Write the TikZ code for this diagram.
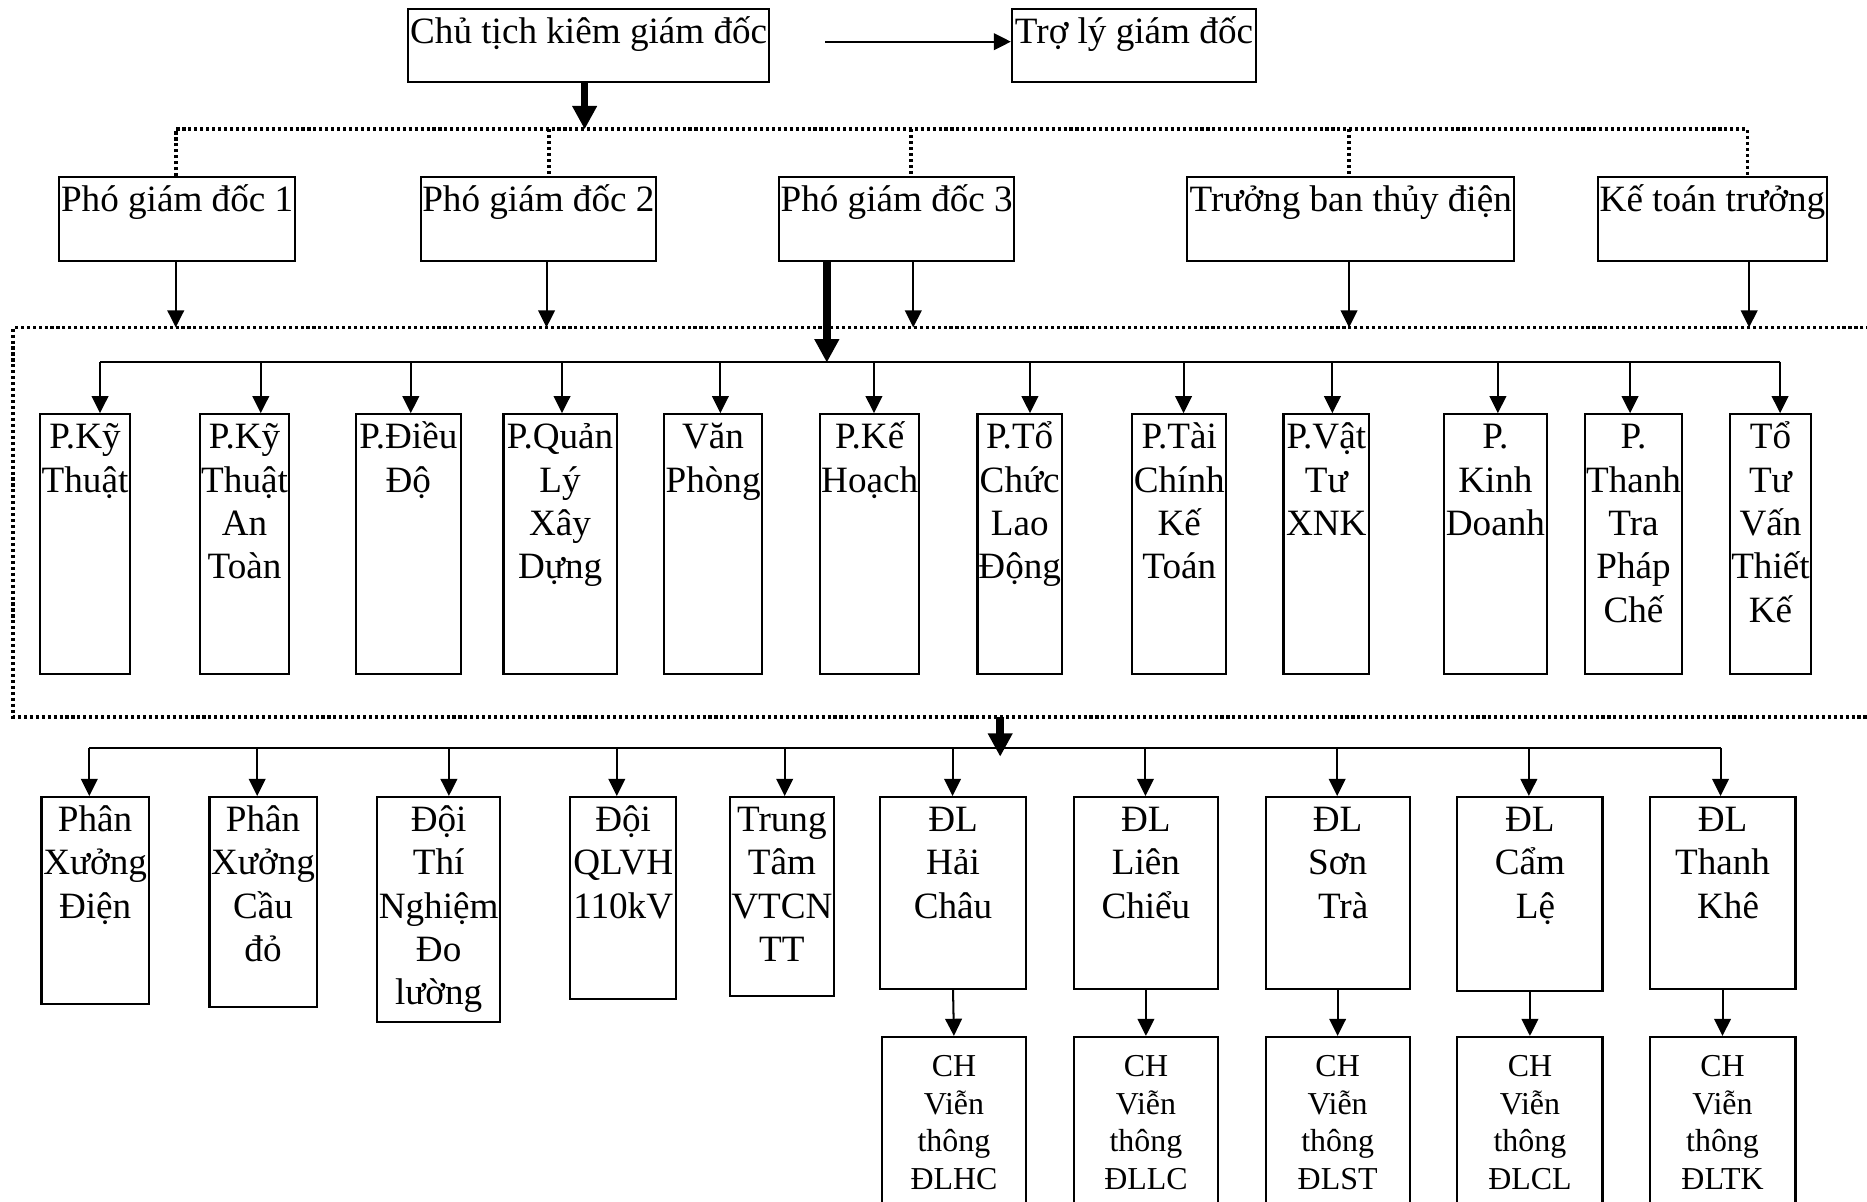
\documentclass[tikz,border=0pt]{standalone}
\usepackage{fontspec}
\setmainfont{Liberation Serif}
\usetikzlibrary{arrows.meta}
\newcommand{\orgbx}[6]{%
  \pgfmathsetmacro\bxw{(#4-#2)*0.5}%
  \pgfmathsetmacro\bxh{(#5-#3)*0.5}%
  \node[box, minimum width=\bxw pt, minimum height=\bxh pt, anchor=north west] (#1) at (#2,#3) {};
  \node[lbl, yshift=1.25pt] (#1t) at (#1.north) {\rule{0pt}{16pt}#6};
}
\newcommand{\orgbxsm}[6]{%
  \pgfmathsetmacro\bxw{(#4-#2)*0.5}%
  \pgfmathsetmacro\bxh{(#5-#3)*0.5}%
  \node[box, minimum width=\bxw pt, minimum height=\bxh pt, anchor=north west] (#1) at (#2,#3) {};
  \node[lblsm, yshift=-2.5pt] (#1t) at (#1.north) {\rule{0pt}{14.5pt}#6};
}
\begin{document}
\begin{tikzpicture}[x=0.5pt,y=-0.5pt,
  box/.style={draw, line width=0.9pt, rectangle, inner sep=0pt},
  lbl/.style={align=center, inner sep=0pt, anchor=north, font=\fontsize{15.6}{18.2}\selectfont},
  lblsm/.style={align=center, inner sep=0pt, anchor=north, font=\fontsize{13.4}{15.75}\selectfont},
  arr/.style={line width=0.85pt, -{Triangle[length=7.2pt,width=7pt]}},
  thickarr/.style={line width=3.2pt, -{Triangle[length=9.8pt,width=9.8pt]}},
  thinline/.style={line width=0.85pt},
  dotline/.style={line width=1.6pt, dash pattern=on 1.3pt off 1.2pt},
]
\useasboundingbox (0,0) rectangle (1568,1009);
\clip (0,0) rectangle (1568,1009);

% top row
\orgbx{chu}{342}{7}{645}{68}{Chủ tịch kiêm giám đốc}
\orgbx{troly}{849}{7}{1054}{68}{Trợ lý giám đốc}
\coordinate (tl0) at (693,35);
\draw[arr] (tl0) -- (tl0 -| troly.west);

% deputies
\orgbx{p1}{49}{148}{246.7}{218.4}{Phó giám đốc 1}
\orgbx{p2}{352.7}{148}{549.8}{218.4}{Phó giám đốc 2}
\orgbx{p3}{653.4}{148}{851}{218.4}{Phó giám đốc 3}
\orgbx{p4}{996.3}{148}{1270.7}{218.4}{Trưởng ban thủy điện}
\orgbx{p5}{1341}{148}{1533.6}{218.4}{Kế toán trưởng}

\coordinate (d0) at (491,108.6);
\draw[thickarr] (chu.south -| d0) -- (d0);
\coordinate (dL) at (147.6,108.6);
\coordinate (dR) at (1467.6,108.6);
\draw[dotline] (dL |- p1.north) -- (dL) -- (dR) -- (dR |- p5.north);
\foreach \n/\x in {p2/461, p3/765.4, p4/1133}{
  \coordinate (dd\n) at (\x,108.6);
  \draw[dotline] (dd\n) -- (dd\n |- \n.north);
}

% arrows from deputies to dotted frame
\foreach \n/\x in {p1/147.6, p2/459, p3/767, p4/1133, p5/1469}{
  \coordinate (q\n) at (\x,275);
  \draw[arr] (q\n |- \n.south) -- (q\n);
}
\coordinate (q3t) at (694.4,304.5);
\draw[thickarr] (q3t |- p3.south) -- (q3t);

% dotted frame
\draw[dotline] (1600,275) -- (11,275) -- (11,602) -- (1600,602);

% departments
\draw[thinline] (84,303.7) -- (1495,303.7);
\orgbx{d1}{33}{347}{108}{565}{P.Kỹ\\Thuật}
\orgbx{d2}{167}{347}{242}{565}{P.Kỹ\\Thuật\\An\\Toàn}
\orgbx{d3}{298}{347}{386}{565}{P.Điều\\Độ}
\orgbx{d4}{422}{347}{517}{565}{P.Quản\\Lý\\Xây\\Dựng}
\orgbx{d5}{557}{347}{639}{565}{Văn\\Phòng}
\orgbx{d6}{688}{347}{771}{565}{P.Kế\\Hoạch}
\orgbx{d7}{820}{347}{891}{565}{P.Tổ\\Chức\\Lao\\Động}
\orgbx{d8}{950}{347}{1029}{565}{P.Tài\\Chính\\Kế\\Toán}
\orgbx{d9}{1077}{347}{1149}{565}{P.Vật\\Tư\\XNK}
\orgbx{d10}{1212}{347}{1298}{565}{P.\\Kinh\\Doanh}
\orgbx{d11}{1330}{347}{1412}{565}{P.\\Thanh\\Tra\\Pháp\\Chế}
\orgbx{d12}{1452}{347}{1520}{565}{Tổ\\Tư\\Vấn\\Thiết\\Kế}
\foreach \n/\x in {d1/84, d2/219, d3/345, d4/472, d5/605, d6/734, d7/865, d8/994, d9/1119, d10/1258, d11/1369, d12/1495}{
  \coordinate (a\n) at (\x,303.7);
  \draw[arr] (a\n) -- (a\n |- \n.north);
}

% lower units
\coordinate (m0) at (840,602);
\coordinate (m1) at (840,635.5);
\draw[thickarr] (m0) -- (m1);
\draw[thinline] (75,628) -- (1445,628);
\orgbx{b1}{34}{668.5}{124}{842}{Phân\\Xưởng\\Điện}
\orgbx{b2}{175}{668.5}{265}{845}{Phân\\Xưởng\\Cầu\\đỏ}
\orgbx{b3}{316}{668.5}{419}{857.5}{Đội\\Thí\\Nghiệm\\Đo\\lường}
\orgbx{b4}{478}{668.5}{567}{838}{Đội\\QLVH\\110kV}
\orgbx{b5}{612}{668.5}{699.5}{835.6}{Trung\\Tâm\\VTCN\\TT}
\orgbx{e1}{738}{668.5}{861}{829.5}{ĐL\\Hải\\Châu}
\orgbx{e2}{901}{668.5}{1022}{829.5}{ĐL\\Liên\\Chiểu}
\orgbx{e3}{1062}{668.5}{1183}{829.5}{ĐL\\Sơn\\\hspace*{0.3em}Trà}
\orgbx{e4}{1223}{668.5}{1345}{831.5}{ĐL\\Cẩm\\\hspace*{0.3em}Lệ}
\orgbx{e5}{1384.5}{668.5}{1507}{829.5}{ĐL\\Thanh\\\hspace*{0.3em}Khê}
\foreach \n/\x in {b1/75, b2/216, b3/377, b4/518, b5/659, e1/800, e2/962, e3/1123, e4/1284, e5/1445}{
  \coordinate (g\n) at (\x,628);
  \draw[arr] (g\n) -- (g\n |- \n.north);
}

% shops
\orgbxsm{c1}{739.5}{870}{861}{1040}{CH\\Viễn\\thông\\ĐLHC}
\orgbxsm{c2}{901}{870}{1022}{1040}{CH\\Viễn\\thông\\ĐLLC}
\orgbxsm{c3}{1062}{870}{1183}{1040}{CH\\Viễn\\thông\\ĐLST}
\orgbxsm{c4}{1223}{870}{1345}{1040}{CH\\Viễn\\thông\\ĐLCL}
\orgbxsm{c5}{1384.5}{870}{1507}{1040}{CH\\Viễn\\thông\\ĐLTK}
\foreach \n in {1,...,5}{
  \draw[arr] (e\n.south) -- (c\n.north);
}
\end{tikzpicture}
\end{document}
